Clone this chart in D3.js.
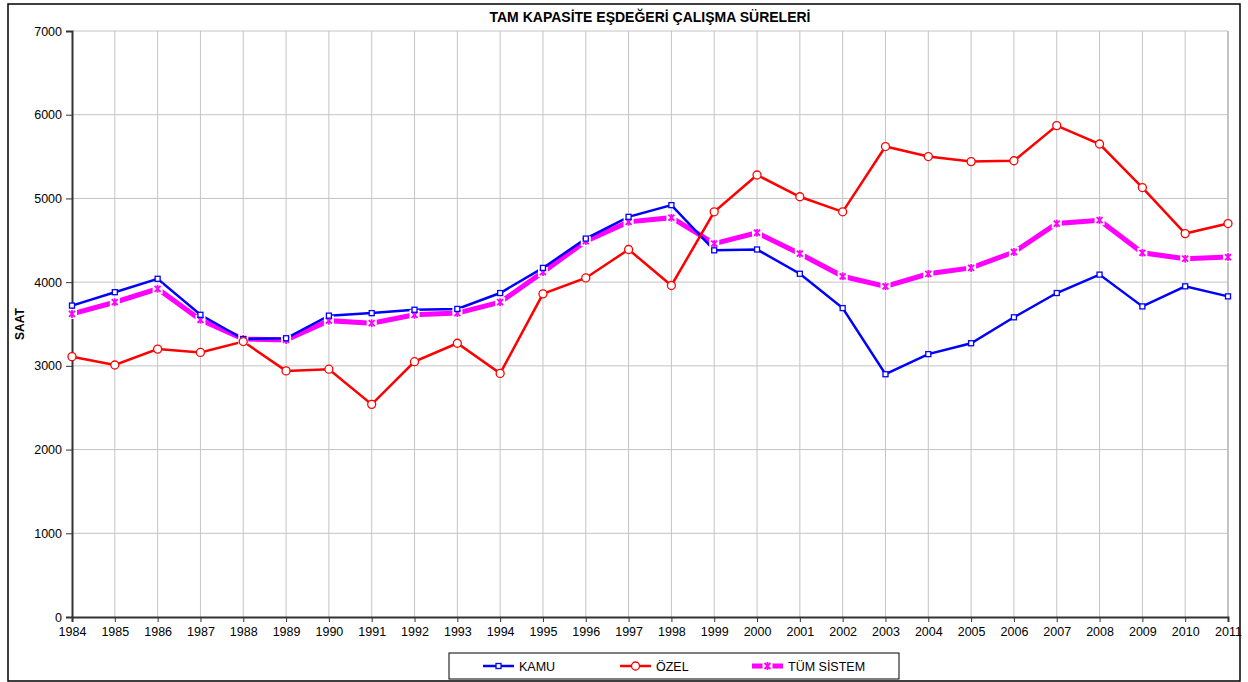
<!DOCTYPE html>
<html>
<head>
<meta charset="utf-8">
<script src="https://cdn.jsdelivr.net/npm/d3@7"></script>
<style>
  body { margin: 0; background: #fff; }
  svg { font-family: Arial, "Liberation Sans", sans-serif; }
</style>
</head>
<body>
<div id="chart"></div>
<script>
// years on the x axis
var years = d3.range(1984, 2012);
var yTicks = [0, 1000, 2000, 3000, 4000, 5000, 6000, 7000];

// values (SAAT)
var kamu = [3720, 3880, 4040, 3610, 3320, 3330, 3600, 3630, 3670, 3680, 3870, 4170, 4520, 4780,
  4920, 4380, 4390, 4100, 3690, 2900, 3140, 3270, 3580, 3870, 4090, 3710, 3950, 3830];
var ozel = [3110, 3010, 3200, 3160, 3290, 2940, 2960, 2540, 3050, 3270, 2910, 3860, 4050, 4390,
  3960, 4840, 5280, 5020, 4840, 5620, 5500, 5440, 5450, 5870, 5650, 5130, 4580, 4700];
var tum = [3620, 3760, 3920, 3550, 3320, 3310, 3540, 3510, 3610, 3630, 3760, 4120, 4490, 4720,
  4770, 4460, 4590, 4340, 4070, 3950, 4100, 4170, 4360, 4700, 4740, 4350, 4280, 4300];

const width = 1248, height = 682;
const margin = { top: 31, right: 20, bottom: 65, left: 72 };

const svg = d3.select('#chart').append('svg')
  .attr('width', width).attr('height', height);

// outer frame
svg.append('rect')
  .attr('x', 8).attr('y', 4).attr('width', 1232).attr('height', 677)
  .attr('fill', 'none').attr('stroke', '#000').attr('stroke-width', 1.5);

const x = d3.scaleLinear()
  .domain([1984, 2011])
  .range([margin.left, width - margin.right]);

const y = d3.scaleLinear()
  .domain([0, 7000])
  .range([height - margin.bottom, margin.top]);

// grid
svg.append('g').selectAll('line.v')
  .data(years.slice(1))
  .join('line')
    .attr('x1', d => x(d)).attr('x2', d => x(d))
    .attr('y1', y(0)).attr('y2', y(7000))
    .attr('stroke', d => d === 2011 ? '#888' : '#c4c4c4').attr('stroke-width', 1);
svg.append('g').selectAll('line.h')
  .data(yTicks.slice(1))
  .join('line')
    .attr('x1', x(1984)).attr('x2', x(2011))
    .attr('y1', d => y(d)).attr('y2', d => y(d))
    .attr('stroke', '#c4c4c4').attr('stroke-width', 1);

// axes
function yAxis(g) {
  g.attr('transform', `translate(${margin.left},0)`)
    .call(d3.axisLeft(y).tickValues(yTicks).tickSize(6).tickPadding(4).tickFormat(d3.format('d')))
    .attr('font-size', '12.5px');
  g.select('.domain').attr('stroke', '#333').attr('stroke-width', 2);
  g.selectAll('.tick line').attr('stroke', '#333');
  g.selectAll('.tick text').attr('fill', '#000');
}
function xAxis(g) {
  g.attr('transform', `translate(0,${y(0)})`)
    .call(d3.axisBottom(x).tickValues(years).tickSize(5).tickPadding(5).tickFormat(d3.format('d')))
    .attr('font-size', '12.5px');
  g.select('.domain').attr('stroke', '#333').attr('stroke-width', 2);
  g.selectAll('.tick line').attr('stroke', '#333');
  g.selectAll('.tick text').attr('fill', '#000');
}
svg.append('g').call(xAxis);
svg.append('g').call(yAxis);

// title and y label
svg.append('text')
  .attr('x', 650).attr('y', 22)
  .attr('text-anchor', 'middle')
  .attr('font-size', '14px').attr('font-weight', 'bold')
  .text('TAM KAPASİTE EŞDEĞERİ ÇALIŞMA SÜRELERİ');
svg.append('text')
  .attr('transform', `translate(24,${(y(0) + y(7000)) / 2}) rotate(-90)`)
  .attr('text-anchor', 'middle')
  .attr('font-size', '12px').attr('font-weight', 'bold')
  .text('SAAT');

const line = d3.line().x((d, i) => x(years[i])).y(d => y(d));

// lines
svg.append('path').datum(tum).attr('d', line)
  .attr('fill', 'none').attr('stroke', '#ff00ff').attr('stroke-width', 5);
svg.append('path').datum(kamu).attr('d', line)
  .attr('fill', 'none').attr('stroke', '#0000ff').attr('stroke-width', 2.5);
svg.append('path').datum(ozel).attr('d', line)
  .attr('fill', 'none').attr('stroke', '#ff0000').attr('stroke-width', 2.5);

// markers
function crossMark(g) {
  g.append('rect').attr('x', -5).attr('y', -5).attr('width', 10).attr('height', 10).attr('fill', '#fff');
  g.append('path').attr('d', 'M-3,-3L3,3M-3,3L3,-3M0,-4L0,4')
    .attr('stroke', '#ff00ff').attr('stroke-width', 1.8);
}
svg.append('g').selectAll('g')
  .data(tum)
  .join('g')
    .attr('transform', (d, i) => `translate(${x(years[i])},${y(d)})`)
    .each(function () { crossMark(d3.select(this)); });

svg.append('g').selectAll('rect')
  .data(kamu)
  .join('rect')
    .attr('x', (d, i) => x(years[i]) - 2.5).attr('y', d => y(d) - 2.5)
    .attr('width', 5).attr('height', 5)
    .attr('fill', '#fff').attr('stroke', '#0000ff').attr('stroke-width', 1.3);

svg.append('g').selectAll('circle')
  .data(ozel)
  .join('circle')
    .attr('cx', (d, i) => x(years[i])).attr('cy', d => y(d)).attr('r', 4)
    .attr('fill', '#fff').attr('stroke', '#ff0000').attr('stroke-width', 1.3);

// legend
const legend = svg.append('g');
legend.append('rect')
  .attr('x', 449).attr('y', 653).attr('width', 450).attr('height', 26)
  .attr('fill', '#fff').attr('stroke', '#000').attr('stroke-width', 1);

var legendItems = [
  { name: 'KAMU', color: '#0000ff', lx: 483, w: 2.5 },
  { name: 'ÖZEL', color: '#ff0000', lx: 620, w: 2.5 },
  { name: 'TÜM SİSTEM', color: '#ff00ff', lx: 752, w: 5 }
];
legendItems.forEach(function (it, k) {
  const ly = 666;
  legend.append('line')
    .attr('x1', it.lx).attr('x2', it.lx + 31).attr('y1', ly).attr('y2', ly)
    .attr('stroke', it.color).attr('stroke-width', it.w);
  const m = legend.append('g').attr('transform', `translate(${it.lx + 15.5},${ly})`);
  if (k === 0) {
    m.append('rect').attr('x', -2.5).attr('y', -2.5).attr('width', 5).attr('height', 5)
      .attr('fill', '#fff').attr('stroke', it.color).attr('stroke-width', 1.3);
  } else if (k === 1) {
    m.append('circle').attr('r', 4).attr('fill', '#fff').attr('stroke', it.color).attr('stroke-width', 1.3);
  } else {
    crossMark(m);
  }
  legend.append('text')
    .attr('x', it.lx + 36).attr('y', ly + 4.5)
    .attr('font-size', '12.5px')
    .text(it.name);
});
</script>
</body>
</html>
